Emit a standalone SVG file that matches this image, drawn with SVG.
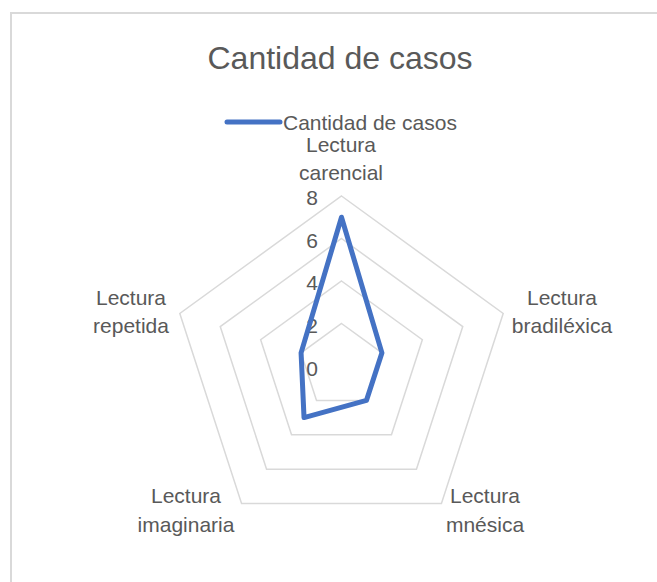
<svg xmlns="http://www.w3.org/2000/svg" width="657" height="582" viewBox="0 0 657 582">
<style>
  text { font-family: "Liberation Sans", Arial, sans-serif; fill: #595959; }
  .lbl { font-size: 21px; text-anchor: middle; }
  .tick { font-size: 21px; text-anchor: end; }
  .grid { fill: none; stroke: #d9d9d9; stroke-width: 1.5; }
  .series { fill: none; stroke: #4472c4; stroke-width: 5; stroke-linejoin: round; stroke-linecap: round; }
</style>
<rect x="0" y="0" width="657" height="582" fill="#ffffff"/>
<rect x="11" y="13" width="700" height="620" fill="#ffffff" stroke="#d9d9d9" stroke-width="2"/>
<g id="title">
  <text x="340" y="69" font-size="32" text-anchor="middle">Cantidad de casos</text>
</g>
<g id="legend">
  <line x1="227" y1="122" x2="280" y2="122" class="series"/>
  <text x="283" y="130" font-size="21">Cantidad de casos</text>
</g>
<g id="gridlines">
  <polygon class="grid" points="341.5,323.5 381.92,352.87 366.48,400.38 316.52,400.38 301.08,352.87"/>
  <polygon class="grid" points="341.5,281 422.34,339.74 391.46,434.77 291.54,434.77 260.66,339.74"/>
  <polygon class="grid" points="341.5,238.5 462.76,326.6 416.44,469.15 266.56,469.15 220.24,326.6"/>
  <polygon class="grid" points="341.5,196 503.19,313.47 441.43,503.53 241.57,503.53 179.81,313.47"/>
</g>
<g id="ticks">
  <text class="tick" x="318" y="205">8</text>
  <text class="tick" x="318" y="248">6</text>
  <text class="tick" x="318" y="290">4</text>
  <text class="tick" x="318" y="333">2</text>
  <text class="tick" x="318" y="376">0</text>
</g>
<g id="connectors">
  <polygon class="series" points="341.5,217.25 381.92,352.87 366.48,400.38 304.03,417.57 301.08,352.87"/>
</g>
<g id="axis-carencial">
  <text class="lbl" x="341" y="152">Lectura</text>
  <text class="lbl" x="341" y="180">carencial</text>
</g>
<g id="axis-bradilexica">
  <text class="lbl" x="562" y="305">Lectura</text>
  <text class="lbl" x="562" y="333">bradiléxica</text>
</g>
<g id="axis-mnesica">
  <text class="lbl" x="485" y="503">Lectura</text>
  <text class="lbl" x="485" y="532">mnésica</text>
</g>
<g id="axis-imaginaria">
  <text class="lbl" x="186" y="503">Lectura</text>
  <text class="lbl" x="186" y="532">imaginaria</text>
</g>
<g id="axis-repetida">
  <text class="lbl" x="131" y="305">Lectura</text>
  <text class="lbl" x="131" y="333">repetida</text>
</g>
</svg>
